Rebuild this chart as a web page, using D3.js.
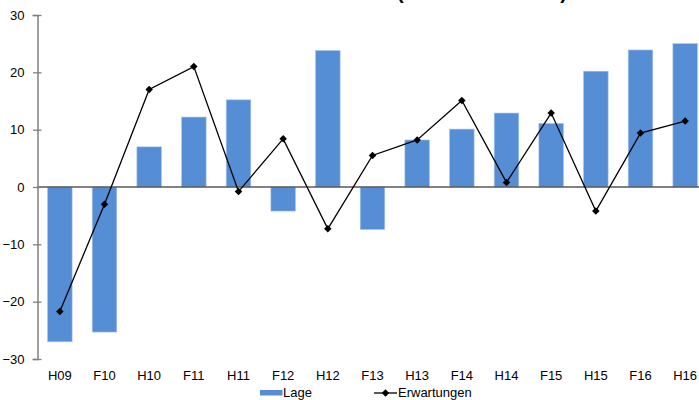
<!DOCTYPE html>
<html>
<head>
<meta charset="utf-8">
<script src="https://cdn.jsdelivr.net/npm/d3@7"></script>
<style>
  html, body { margin: 0; padding: 0; background: #fff; }
  svg { display: block; font-family: "Liberation Sans", Arial, sans-serif; }
</style>
</head>
<body>
<svg id="chart" width="699" height="400"></svg>
<script>
// Half-year survey waves
const categories = ["H09", "F10", "H10", "F11", "H11", "F12", "H12", "F13", "H13", "F14", "H14", "F15", "H15", "F16", "H16"];
// Current situation (bars)
const lage = [-27.0, -25.3, 7.0, 12.2, 15.2, -4.2, 23.8, -7.4, 8.2, 10.1, 12.9, 11.1, 20.2, 23.9, 25.0];
// Expectations (line)
const erwartungen = [-21.7, -3.0, 17.0, 21.0, -0.8, 8.4, -7.3, 5.5, 8.2, 15.1, 0.8, 12.9, -4.2, 9.4, 11.5];
const yTicks = [-30, -20, -10, 0, 10, 20, 30];

const svg = d3.select("#chart");

const x = d3.scaleBand()
  .domain(categories)
  .range([37.5, 707.5])
  .paddingInner(0.45)
  .paddingOuter(0.225);

const y = d3.scaleLinear().domain([-30, 30]).range([359, 15]);

// Title (runs above the visible area)
svg.append("text")
  .attr("x", 397)
  .attr("y", -1)
  .attr("font-size", 20)
  .attr("font-weight", "bold")
  .attr("fill", "#000")
  .text("(Saldo in Prozent)");

// Bars
svg.append("g")
  .selectAll("rect")
  .data(lage)
  .join("rect")
  .attr("x", (d, i) => x(categories[i]))
  .attr("width", x.bandwidth())
  .attr("y", d => y(Math.max(0, d)))
  .attr("height", d => Math.abs(y(d) - y(0)))
  .attr("fill", "#558ed5")
  .attr("stroke", "#a8c4ea")
  .attr("stroke-width", 0.6);

// Zero line
svg.append("line")
  .attr("x1", 37.5).attr("x2", 699)
  .attr("y1", y(0)).attr("y2", y(0))
  .attr("stroke", "#595959")
  .attr("stroke-width", 1.3);

// Y axis
const yAxis = d3.axisLeft(y)
  .tickValues(yTicks)
  .tickSize(5)
  .tickPadding(8);
const gy = svg.append("g")
  .attr("transform", "translate(37.5,0)")
  .call(yAxis);
gy.select(".domain").attr("stroke", "#808080").attr("stroke-width", 1.5);
gy.selectAll(".tick line").attr("stroke", "#808080").attr("stroke-width", 1.3).attr("x2", 4).attr("x1", -4.5);
gy.selectAll(".tick text")
  .attr("font-size", 13)
  .attr("fill", "#000")
  .attr("font-family", "Liberation Sans, Arial, sans-serif");

// Category labels
svg.append("g")
  .selectAll("text")
  .data(categories)
  .join("text")
  .attr("x", d => x(d) + x.bandwidth() / 2)
  .attr("y", 380)
  .attr("text-anchor", "middle")
  .attr("font-size", 13)
  .attr("fill", "#000")
  .text(d => d);

// Expectations line
const line = d3.line()
  .x((d, i) => x(categories[i]) + x.bandwidth() / 2)
  .y(d => y(d));
svg.append("path")
  .datum(erwartungen)
  .attr("d", line)
  .attr("fill", "none")
  .attr("stroke", "#000")
  .attr("stroke-width", 1.3);

const marker = d3.symbol().type(d3.symbolSquare).size(28);
svg.append("g")
  .selectAll("path")
  .data(erwartungen)
  .join("path")
  .attr("d", marker)
  .attr("transform", (d, i) => `translate(${x(categories[i]) + x.bandwidth() / 2},${y(d)}) rotate(45)`)
  .attr("fill", "#000");

// Legend
const legend = svg.append("g");
legend.append("rect")
  .attr("x", 260).attr("y", 390)
  .attr("width", 22.5).attr("height", 5.5)
  .attr("fill", "#558ed5");
legend.append("text")
  .attr("x", 283).attr("y", 397)
  .attr("font-size", 13)
  .attr("fill", "#000")
  .text("Lage");
legend.append("line")
  .attr("x1", 374).attr("x2", 397)
  .attr("y1", 393).attr("y2", 393)
  .attr("stroke", "#000").attr("stroke-width", 1.3);
legend.append("path")
  .attr("d", marker)
  .attr("transform", "translate(385.5,393) rotate(45)")
  .attr("fill", "#000");
legend.append("text")
  .attr("x", 398).attr("y", 397)
  .attr("font-size", 13)
  .attr("fill", "#000")
  .text("Erwartungen");
</script>
</body>
</html>
